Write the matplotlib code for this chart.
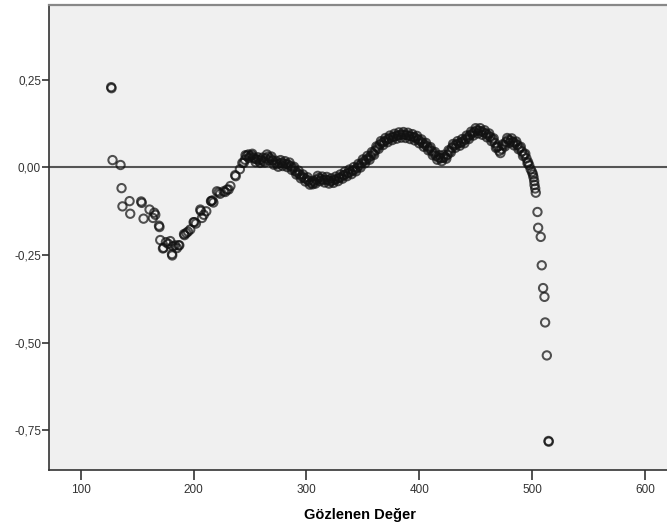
import matplotlib
matplotlib.use("Agg")
import matplotlib.pyplot as plt

obs = [126.9, 127.2, 128.1, 135.2, 136.1, 136.9, 143.2, 143.8, 153.5, 154.0,
       155.6, 160.9, 163.9, 165.1, 166.0, 169.3, 169.7, 170.4, 172.8, 173.3,
       175.4, 177.5, 179.3, 180.8, 181.0, 181.7, 183.5, 185.2, 186.7, 187.3,
       191.5, 191.9, 193.5, 195.0, 197.0, 200.0, 200.6, 202.0, 205.9, 206.3,
       207.4, 209.0, 211.2, 215.4, 215.7, 216.6, 217.5, 220.7, 222.2, 223.5,
       226.6, 228.0, 229.6, 231.0, 232.6, 236.8, 237.3, 241.0, 243.2, 244.4,
       245.5, 247.0, 248.5, 250.0, 251.5, 253.0, 254.5, 256.0, 258.0, 260.0,
       262.0, 264.0, 266.0, 268.0, 270.0, 272.0, 274.0, 276.0, 278.0, 280.0,
       282.0, 284.0, 286.0, 288.0, 290.0, 292.0, 294.0, 296.0, 298.0, 300.0,
       302.0, 304.0, 305.5, 307.0, 309.0, 311.0, 313.0, 315.0, 317.0, 319.0,
       321.0, 323.0, 325.0, 327.0, 329.0, 331.0, 333.0, 335.0, 337.0, 339.0,
       341.0, 343.0, 345.0, 347.0, 349.0, 351.0, 353.0, 355.0, 357.0, 359.0,
       361.0, 363.0, 365.0, 367.0, 369.0, 371.0, 373.0, 375.0, 377.0, 379.0,
       381.0, 383.0, 385.0, 387.0, 389.0, 391.0, 393.0, 395.0, 397.0, 399.0,
       401.0, 403.0, 405.0, 407.0, 409.0, 411.0, 413.0, 415.0, 417.0, 419.0,
       421.0, 423.0, 425.0, 427.0, 429.0, 431.0, 433.0, 435.0, 437.0, 439.0,
       441.0, 443.0, 445.0, 447.0, 449.0, 451.0, 453.0, 455.0, 457.0, 459.0,
       461.0, 463.0, 465.0, 467.0, 469.0, 471.0, 473.0, 475.0, 477.0, 479.0,
       481.0, 483.0, 485.0, 487.0, 489.0, 491.0, 493.0, 495.0, 496.5, 497.5,
       498.8, 500.0, 500.8, 501.3, 501.9, 502.2, 502.8, 503.3, 504.8, 505.4,
       507.7, 508.6, 509.8, 511.0, 511.6, 513.1, 514.6, 514.8]

dev = [0.229, 0.226, 0.021, 0.007, -0.059, -0.111, -0.096, -0.132, -0.097, -0.101,
       -0.146, -0.120, -0.144, -0.129, -0.135, -0.166, -0.170, -0.207, -0.231, -0.229,
       -0.213, -0.218, -0.210, -0.247, -0.251, -0.225, -0.222, -0.230, -0.222, -0.222,
       -0.190, -0.193, -0.187, -0.183, -0.177, -0.156, -0.156, -0.160, -0.120, -0.124,
       -0.144, -0.135, -0.125, -0.096, -0.096, -0.094, -0.100, -0.068, -0.071, -0.075,
       -0.068, -0.070, -0.063, -0.063, -0.053, -0.022, -0.025, -0.005, 0.013, 0.013,
       0.022, 0.033, 0.037, 0.032, 0.035, 0.028, 0.024, 0.023, 0.020, 0.022,
       0.018, 0.026, 0.031, 0.026, 0.020, 0.013, 0.009, 0.012, 0.014, 0.011,
       0.010, 0.008, 0.004, -0.002, -0.010, -0.015, -0.020, -0.026, -0.030, -0.034,
       -0.038, -0.044, -0.048, -0.042, -0.035, -0.030, -0.033, -0.036, -0.034, -0.036,
       -0.040, -0.038, -0.035, -0.033, -0.030, -0.027, -0.022, -0.019, -0.016, -0.013,
       -0.009, -0.006, -0.001, 0.005, 0.012, 0.018, 0.022, 0.027, 0.033, 0.040,
       0.048, 0.057, 0.065, 0.070, 0.074, 0.078, 0.082, 0.085, 0.087, 0.089,
       0.091, 0.093, 0.094, 0.093, 0.092, 0.090, 0.088, 0.087, 0.084, 0.080,
       0.075, 0.070, 0.065, 0.060, 0.054, 0.047, 0.040, 0.033, 0.028, 0.026,
       0.027, 0.030, 0.036, 0.046, 0.056, 0.062, 0.066, 0.069, 0.071, 0.075,
       0.080, 0.086, 0.092, 0.097, 0.102, 0.106, 0.105, 0.103, 0.100, 0.097,
       0.092, 0.087, 0.080, 0.070, 0.058, 0.047, 0.052, 0.064, 0.073, 0.079,
       0.077, 0.073, 0.069, 0.064, 0.056, 0.046, 0.037, 0.026, 0.015, 0.006,
       -0.005, -0.013, -0.020, -0.028, -0.039, -0.050, -0.060, -0.072, -0.127, -0.172,
       -0.198, -0.279, -0.344, -0.369, -0.442, -0.536, -0.780, -0.782]

# second layer of the dense band (tied observations spread the band)
obs_band = [246, 249, 252, 255, 257, 259, 261, 263, 265, 267, 269, 271, 273, 275,
            277, 279, 281, 283, 285, 287, 289, 291, 293, 295, 297, 299, 301, 303,
            306, 308, 310, 312, 314, 316, 318, 320, 322, 324, 326, 328, 330, 332,
            334, 336, 338, 340, 342, 344, 346, 348, 350, 352, 354, 356, 358, 360,
            362, 364, 366, 368, 370, 372, 374, 376, 378, 380, 382, 384, 386, 388,
            390, 392, 394, 396, 398, 400, 402, 404, 406, 408, 410, 412, 414, 416,
            418, 420, 422, 424, 426, 428, 430, 432, 434, 436, 438, 440, 442, 444,
            446, 448, 450, 452, 454, 456, 458, 460, 462, 464, 466, 468, 470, 472,
            474, 476, 478, 480, 482, 484, 486, 488, 490, 492, 494, 496]
dev_band = [0.035, 0.027, 0.039, 0.015, 0.029, 0.013, 0.028, 0.014, 0.037, 0.020,
            0.031, 0.008, 0.019, 0.002, 0.021, 0.004, 0.018, 0.001, 0.014, -0.007,
            0.002, -0.020, -0.009, -0.031, -0.020, -0.040, -0.028, -0.049, -0.038, -0.046,
            -0.024, -0.039, -0.026, -0.043, -0.027, -0.046, -0.031, -0.044, -0.026, -0.039,
            -0.020, -0.032, -0.012, -0.025, -0.006, -0.019, 0.001, -0.011, 0.010, 0.000,
            0.023, 0.012, 0.033, 0.022, 0.044, 0.036, 0.060, 0.053, 0.075, 0.064,
            0.084, 0.072, 0.091, 0.078, 0.096, 0.082, 0.100, 0.085, 0.101, 0.084,
            0.099, 0.081, 0.095, 0.077, 0.090, 0.069, 0.080, 0.059, 0.070, 0.049,
            0.058, 0.035, 0.044, 0.022, 0.035, 0.018, 0.036, 0.025, 0.049, 0.043,
            0.067, 0.056, 0.075, 0.062, 0.081, 0.069, 0.091, 0.081, 0.102, 0.091,
            0.112, 0.097, 0.112, 0.093, 0.106, 0.086, 0.097, 0.075, 0.083, 0.056,
            0.060, 0.041, 0.066, 0.060, 0.084, 0.070, 0.083, 0.063, 0.074, 0.052,
            0.059, 0.033, 0.039, 0.012]

xticks = [100, 200, 300, 400, 500, 600]
yticks = [0.25, 0.0, -0.25, -0.5, -0.75]
ytick_labels = ["0,25", "0,00", "-0,25", "-0,50", "-0,75"]
xlabel = "Gözlenen Değer"

plt.rcParams["font.family"] = ["Liberation Sans", "DejaVu Sans"]

fig = plt.figure(figsize=(6.67, 5.27), dpi=100)
ax = fig.add_axes([0.074, 0.108, 0.93, 0.883])
ax.set_facecolor("#f0f0f0")

ax.axhline(0, color="#555555", lw=1.5, zorder=1)
ax.scatter(obs + obs_band, dev + dev_band, s=36, facecolors="none",
           edgecolors="#111111", linewidths=1.45, alpha=0.72, zorder=2)

ax.set_xlim(72.1, 622)
ax.set_ylim(-0.863, 0.464)
ax.set_xticks(xticks)
ax.set_xticklabels([str(t) for t in xticks])
ax.set_yticks(yticks)
ax.set_yticklabels(ytick_labels)
ax.tick_params(axis="both", labelsize=8.5, colors="#333333", direction="out")
ax.tick_params(axis="x", length=7, width=1.2, pad=3)
ax.tick_params(axis="y", length=5, width=1.2, pad=1)

ax.set_xlabel(xlabel, fontsize=10.5, fontweight="bold", labelpad=9)

for side in ["left", "bottom"]:
    ax.spines[side].set_color("#333333")
    ax.spines[side].set_linewidth(1.2)
ax.spines["top"].set_color("#888888")
ax.spines["top"].set_linewidth(1.6)
ax.spines["right"].set_visible(False)

fig.savefig("out.png", dpi=100)
